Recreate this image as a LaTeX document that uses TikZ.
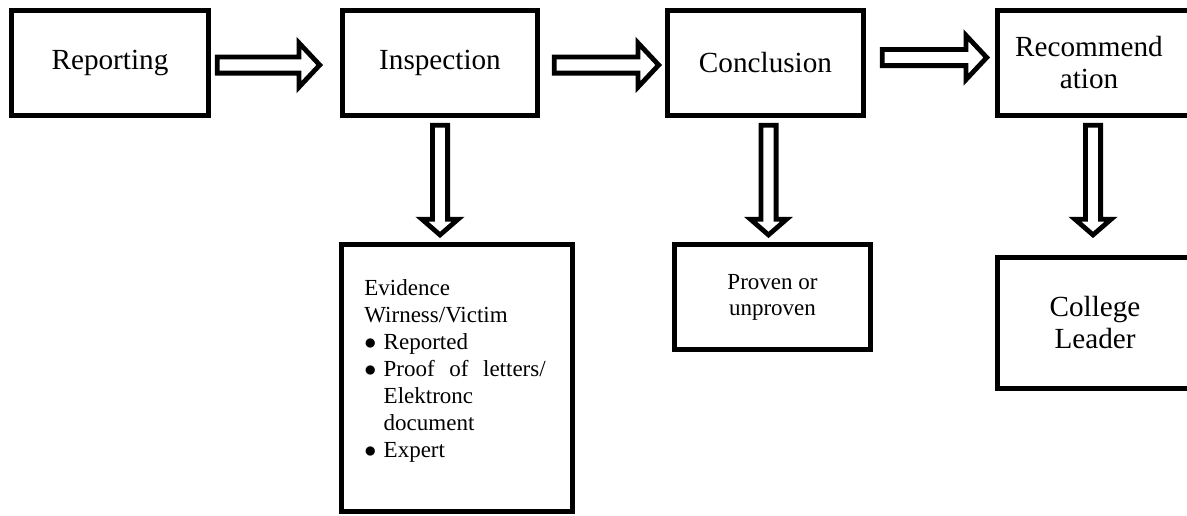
\documentclass[tikz,border=0pt]{standalone}
\usepackage{fontspec}
\setmainfont{Liberation Serif}
\usetikzlibrary{calc}
\newcommand{\bul}{\makebox[9.65pt][l]{$\bullet$}}
\begin{document}
\begin{tikzpicture}[x=0.5pt,y=-0.5pt,
  box/.style={draw,line width=2.7pt,inner sep=0pt,outer sep=0pt,align=center,
    font=\fontsize{14.6pt}{16pt}\selectfont},
  smallbox/.style={box,font=\fontsize{11.5pt}{13pt}\selectfont},
  harrow/.style={draw,line width=2.4pt,line join=miter,
    to path={let \p1=(\tikztostart), \p2=(\tikztotarget) in
      (\x1,\y1+4.05pt) -- (\x2-10.35pt,\y1+4.05pt) -- (\x2-10.35pt,\y1+11.05pt)
      -- (\x2,\y1) -- (\x2-10.35pt,\y1-11.05pt) -- (\x2-10.35pt,\y1-4.05pt)
      -- (\x1,\y1-4.05pt) -- cycle}},
  varrow/.style={draw,line width=2.4pt,line join=miter,
    to path={let \p1=(\tikztostart), \p2=(\tikztotarget) in
      (\x1-3.8pt,\y1) -- (\x1-3.8pt,\y2+7.85pt) -- (\x1-9.05pt,\y2+7.85pt)
      -- (\x1,\y2) -- (\x1+9.05pt,\y2+7.85pt) -- (\x1+3.8pt,\y2+7.85pt)
      -- (\x1+3.8pt,\y1) -- cycle}}]
\useasboundingbox (0,0) rectangle (1187,515);
\clip (0,0) rectangle (1187,515);
\fill[white] (0,0) rectangle (1187,515);

\node[box,minimum width=98.3pt,minimum height=52.3pt] (rep) at (110,63) {Reporting};
\node[box,minimum width=97.3pt,minimum height=52.3pt] (insp) at (440,63) {Inspection};
\node[box,minimum width=97.8pt,minimum height=52.3pt] (conc) at (765.5,63) {Conclusion};
\node[box,minimum width=131.15pt,minimum height=52.3pt] (rec) at (1128.85,63) {\hspace*{-39.85pt}Recommend\\\hspace*{-39.85pt}ation};
\node[box,minimum width=115.3pt,minimum height=133.3pt] (evid) at (457,378) {};
\node[smallbox,minimum width=97.8pt,minimum height=52.3pt] (prov) at (772.5,297) {\raisebox{-2pt}{Proven or}\\\raisebox{-2pt}{unproven}};
\node[box,minimum width=131.15pt,minimum height=65.3pt] (coll) at (1128.85,323) {\hspace*{-33.85pt}College\\\hspace*{-33.85pt}Leader};

\node[anchor=base west,inner sep=0pt] (evtext) at ([shift={(22.3,50.3)}]evid.north west)
  {\parbox[t]{100pt}{\fontsize{11.5pt}{13.5pt}\selectfont
   Evidence\\
   Wirness/Victim\\
   \bul Reported\\
   \bul\makebox[81pt][s]{Proof of letters/}\\
   \hspace*{9.65pt}Elektronc\\
   \hspace*{9.65pt}document\\
   \bul Expert}};

\draw[harrow] ([shift={(9,2)}]rep.east) to ([shift={(-23,2)}]insp.west);
\draw[harrow] ([shift={(17,2)}]insp.east) to ([shift={(-9,2)}]conc.west);
\draw[harrow] ([shift={(19,-5.5)}]conc.east) to ([shift={(-11,-5.5)}]rec.west);

\draw[varrow] ([shift={(0,10)}]insp.south) to ([shift={(0,-9.8)}]evid.north);
\draw[varrow] ([shift={(3,10)}]conc.south) to ([shift={(0,-9.8)}]prov.north);
\draw[varrow] ([shift={(-35.85,10)}]rec.south) to ([shift={(0,-22.8)}]coll.north);
\end{tikzpicture}
\end{document}
